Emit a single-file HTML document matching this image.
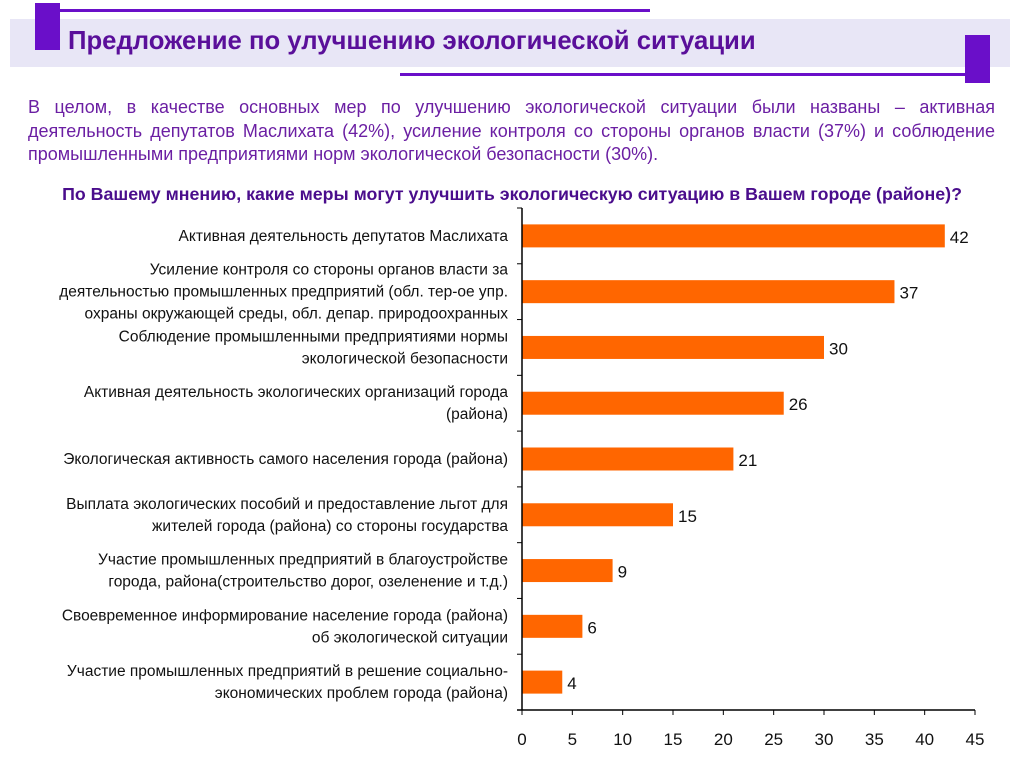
<!DOCTYPE html>
<html><head><meta charset="utf-8">
<style>
body{margin:0;width:1024px;height:767px;background:#fff;font-family:"Liberation Sans",sans-serif;position:relative;overflow:hidden}
.abs{position:absolute}
.pl{left:28px;width:967px;font-size:18px;color:#6b1fa3;text-align:justify;text-align-last:justify;white-space:nowrap}
#q{left:0;width:1024px;top:184px;text-align:center;font-size:17.8px;font-weight:bold;color:#4a0d8c}
</style></head><body>
<div class="abs" style="left:10px;top:19px;width:1000px;height:48px;background:#e8e6f6"></div>
<div class="abs" style="left:35px;top:3px;width:25px;height:47px;background:#6a0fc9"></div>
<div class="abs" style="left:60px;top:9px;width:590px;height:3px;background:#6a0fc9"></div>
<div class="abs" style="left:965px;top:35px;width:25px;height:48px;background:#6a0fc9"></div>
<div class="abs" style="left:400px;top:73px;width:565px;height:3px;background:#6a0fc9"></div>
<div class="abs" style="left:68px;top:27px;font-size:25.7px;font-weight:bold;color:#5a0f9a">Предложение по улучшению экологической ситуации</div>
<div>
<div class="abs pl" style="top:97px">В целом, в качестве основных мер по улучшению экологической ситуации были названы – активная</div>
<div class="abs pl" style="top:120.5px">деятельность депутатов Маслихата (42%), усиление контроля со стороны органов власти (37%) и соблюдение</div>
<div class="abs pl" style="top:144px;text-align-last:left">промышленными предприятиями норм экологической безопасности (30%).</div>
</div>
<div class="abs" id="q">По Вашему мнению, какие меры могут улучшить экологическую ситуацию в Вашем городе (районе)?</div>
<svg class="abs" style="left:0;top:0" width="1024" height="767">
<g id="g"></g></svg>
<script>
const categories=[
["Активная деятельность депутатов Маслихата"],
["Усиление контроля со стороны органов власти за","деятельностью промышленных предприятий (обл. тер-ое упр.","охраны окружающей среды, обл. депар. природоохранных"],
["Соблюдение промышленными предприятиями нормы","экологической безопасности"],
["Активная деятельность экологических организаций города","(района)"],
["Экологическая активность самого населения города (района)"],
["Выплата экологических пособий и предоставление льгот для","жителей города (района) со стороны государства"],
["Участие промышленных предприятий в благоустройстве","города, района(строительство дорог, озеленение и т.д.)"],
["Своевременное информирование население города (района)","об экологической ситуации"],
["Участие промышленных предприятий в решение социально-","экономических проблем города (района)"]];
const values=[42,37,30,26,21,15,9,6,4];
const ticks=[0,5,10,15,20,25,30,35,40,45];
const NS="http://www.w3.org/2000/svg",g=document.getElementById('g');
const x0=522,x1=975,top0=208,bot=710,maxV=45;
const band=(bot-top0)/categories.length;
const xs=v=>x0+(x1-x0)*v/maxV;
function mk(t,a){const e=document.createElementNS(NS,t);for(const k in a)e.setAttribute(k,a[k]);g.appendChild(e);return e;}
categories.forEach((c,i)=>{
 const cy=top0+band*(i+0.5);
 const r=mk('rect',{x:x0,y:cy-11.5,width:xs(values[i])-x0,height:23,fill:'#ff6600'});
 
 
 const vl=mk('text',{x:xs(values[i])+5,y:cy+7,'font-size':17,fill:'#111'});vl.textContent=values[i];
 
 
 const lh=22,n=c.length;
 c.forEach((ln,j)=>{const t=mk('text',{x:508,y:cy+(j-(n-1)/2)*lh+5,'font-size':15.5,'text-anchor':'end',fill:'#111'});t.textContent=ln;
 
 });
 mk('line',{x1:x0-5,x2:x0,y1:top0+band*i,y2:top0+band*i,stroke:'#000'});
});
mk('line',{x1:x0,x2:x0,y1:top0,y2:bot,stroke:'#000','stroke-width':1.5});
mk('line',{x1:x0-5,x2:x1,y1:bot,y2:bot,stroke:'#000','stroke-width':1.5});
ticks.forEach(t=>{mk('line',{x1:xs(t),x2:xs(t),y1:bot,y2:bot+5,stroke:'#000'});
 const l=mk('text',{x:xs(t),y:745,'font-size':17,'text-anchor':'middle',fill:'#111'});l.textContent=t;
 
 });
</script>
</body></html>
